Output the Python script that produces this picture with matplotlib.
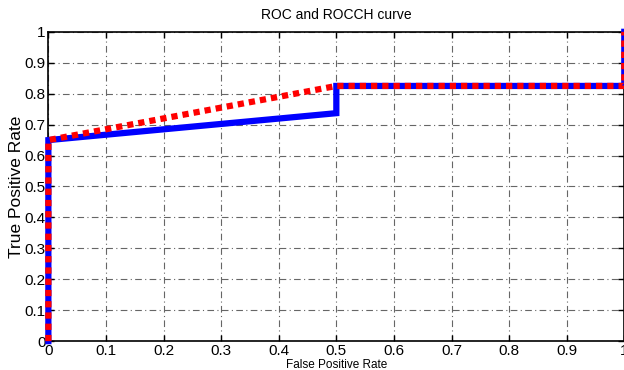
import numpy as np
from matplotlib import pyplot as plt

plt.rcParams['font.family'] = ['Liberation Sans', 'DejaVu Sans']

# ROC curve points
roc_fpr = [0, 0, 0.5, 0.5, 1, 1]
roc_tpr = [0, 0.65, 0.737, 0.825, 0.825, 1]

# ROC convex hull points
hull_fpr = [0, 0, 0.5, 1, 1]
hull_tpr = [0, 0.65, 0.825, 0.825, 1]

ticks = np.arange(0, 1.01, 0.1)
tick_labels = ["0", "0.1", "0.2", "0.3", "0.4", "0.5", "0.6", "0.7", "0.8", "0.9", "1"]

fig = plt.figure(figsize=(6.24, 3.70), dpi=100)
ax = fig.add_axes([0.0775, 0.078, 0.923, 0.836])

ax.plot(roc_fpr, roc_tpr, color="#0000ff", linewidth=4.5, solid_joinstyle="miter", clip_on=False, zorder=3)
ax.plot(hull_fpr, hull_tpr, color="#ff0000", linewidth=4.5, linestyle=(0, (1, 0.8)), clip_on=False, zorder=4)

ax.set_xlim(0, 1)
ax.set_ylim(0, 1)
ax.set_xticks(ticks)
ax.set_yticks(ticks)
ax.set_xticklabels(tick_labels, fontsize=11)
ax.set_yticklabels(tick_labels, fontsize=11)
ax.tick_params(direction="in", length=4, width=1, top=True, right=True, pad=2)

ax.grid(True, color="#666666", linestyle=(0, (6, 3, 1, 3)), linewidth=0.8)
ax.set_axisbelow(True)
for spine in ax.spines.values():
    spine.set_linewidth(1.2)

ax.set_title("ROC and ROCCH curve", fontsize=10, pad=9)
ax.set_xlabel("False Positive Rate", fontsize=8.5, labelpad=0.5)
ax.set_ylabel("True Positive Rate", fontsize=12.5, labelpad=0)

plt.savefig("out.png", dpi=100)
